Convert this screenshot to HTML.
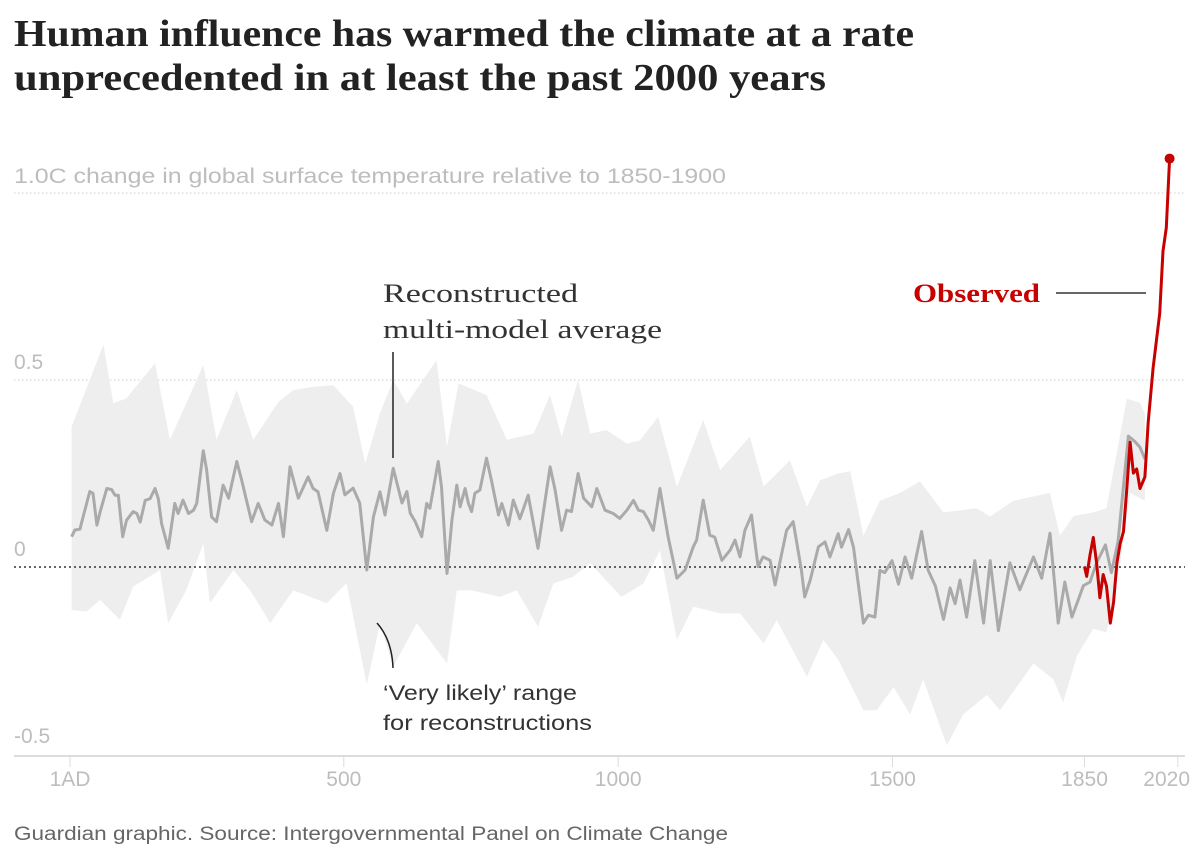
<!DOCTYPE html>
<html><head><meta charset="utf-8"><style>
html,body{margin:0;padding:0;background:#fff;width:1200px;height:859px;overflow:hidden}
svg{display:block}
</style></head><body>
<svg id="chart" width="1200" height="859" xmlns="http://www.w3.org/2000/svg">
<text x="14" y="46" font-family="Liberation Serif, serif" font-weight="bold" font-size="38" fill="#222" textLength="900" lengthAdjust="spacingAndGlyphs">Human influence has warmed the climate at a rate</text>
<text x="14" y="90" font-family="Liberation Serif, serif" font-weight="bold" font-size="38" fill="#222" textLength="812" lengthAdjust="spacingAndGlyphs">unprecedented in at least the past 2000 years</text>
<text x="14" y="183" font-family="Liberation Sans, sans-serif" font-size="21" fill="#bdbdbd" textLength="712" lengthAdjust="spacingAndGlyphs">1.0C change in global surface temperature relative to 1850-1900</text>
<g id="grid"></g>
<g id="marks"></g>
<g id="axis"></g>
<text x="383" y="302" font-family="Liberation Serif, serif" font-size="26" fill="#333" textLength="195" lengthAdjust="spacingAndGlyphs">Reconstructed</text>
<text x="383" y="338" font-family="Liberation Serif, serif" font-size="26" fill="#333" textLength="279" lengthAdjust="spacingAndGlyphs">multi-model average</text>
<line x1="393" y1="352" x2="393" y2="458" stroke="#222" stroke-width="1.5"/>
<text x="913" y="302" font-family="Liberation Serif, serif" font-weight="bold" font-size="26" fill="#c70000" textLength="127" lengthAdjust="spacingAndGlyphs">Observed</text>
<line x1="1056" y1="293" x2="1146" y2="293" stroke="#333" stroke-width="1.5"/>
<path d="M377,623 Q392,640 393,668" fill="none" stroke="#222" stroke-width="1.5"/>
<text x="383" y="700" font-family="Liberation Sans, sans-serif" font-size="21" fill="#333" textLength="194" lengthAdjust="spacingAndGlyphs">‘Very likely’ range</text>
<text x="383" y="730" font-family="Liberation Sans, sans-serif" font-size="21" fill="#333" textLength="209" lengthAdjust="spacingAndGlyphs">for reconstructions</text>
<text x="14" y="840" font-family="Liberation Sans, sans-serif" font-size="19" fill="#666" textLength="714" lengthAdjust="spacingAndGlyphs">Guardian graphic. Source: Intergovernmental Panel on Climate Change</text>
</svg>
<script>
const meanYears=[4,10,19,25,37,43,50,56,68,77,83,89,97,104,116,123,129,138,147,156,162,168,180,192,198,207,217,226,232,244,250,259,268,280,290,305,314,332,344,350,356,369,381,390,402,417,435,444,453,469,481,493,502,517,529,542,554,566,575,590,606,615,621,630,642,651,657,672,678,688,697,706,712,721,727,733,739,748,760,769,782,788,800,809,821,836,854,876,885,897,906,915,927,937,952,961,976,991,1003,1016,1028,1037,1046,1055,1064,1076,1091,1107,1122,1137,1143,1155,1167,1176,1189,1204,1213,1222,1231,1243,1255,1264,1277,1286,1307,1319,1334,1340,1350,1365,1377,1386,1401,1407,1420,1429,1447,1456,1468,1477,1486,1499,1511,1523,1535,1553,1565,1578,1593,1605,1614,1623,1635,1650,1666,1678,1693,1714,1732,1757,1772,1787,1802,1814,1827,1848,1860,1872,1888,1899,1911,1930,1942,1951,1960];
const meanValues=[0.081,0.099,0.101,0.135,0.202,0.197,0.112,0.148,0.210,0.207,0.192,0.192,0.081,0.125,0.148,0.143,0.120,0.178,0.183,0.210,0.183,0.116,0.050,0.170,0.143,0.179,0.143,0.152,0.170,0.311,0.260,0.134,0.121,0.219,0.184,0.282,0.232,0.121,0.170,0.148,0.126,0.112,0.170,0.081,0.268,0.184,0.241,0.210,0.201,0.098,0.197,0.250,0.193,0.211,0.171,-0.008,0.134,0.201,0.139,0.264,0.171,0.202,0.144,0.122,0.081,0.170,0.157,0.282,0.214,-0.017,0.125,0.219,0.161,0.210,0.170,0.148,0.197,0.206,0.291,0.232,0.139,0.170,0.112,0.179,0.129,0.192,0.050,0.268,0.206,0.098,0.152,0.148,0.250,0.184,0.161,0.210,0.152,0.143,0.130,0.152,0.178,0.152,0.148,0.126,0.098,0.210,0.081,-0.030,-0.008,0.054,0.072,0.179,0.085,0.080,0.018,0.045,0.072,0.027,0.098,0.139,0.001,0.027,0.018,-0.048,0.098,0.121,-0.008,-0.080,-0.035,0.054,0.067,0.027,0.089,0.053,0.100,0.053,-0.150,-0.129,-0.134,-0.009,-0.015,0.017,-0.046,0.027,-0.030,0.095,-0.009,-0.050,-0.140,-0.056,-0.098,-0.035,-0.134,0.017,-0.150,0.017,-0.170,0.011,-0.061,0.027,-0.030,0.090,-0.150,-0.040,-0.134,-0.050,-0.040,0.011,0.059,-0.015,0.067,0.350,0.335,0.320,0.289];
const upperYears=[4,31,62,80,104,156,183,244,268,305,335,381,408,444,481,517,539,566,590,615,669,688,709,760,797,846,876,897,927,949,979,1016,1040,1073,1107,1155,1186,1240,1265,1313,1344,1368,1401,1423,1447,1477,1514,1550,1593,1653,1678,1720,1751,1787,1805,1830,1866,1890,1927,1951,1960];
const upperValues=[0.375,0.478,0.594,0.438,0.451,0.545,0.340,0.540,0.340,0.473,0.340,0.442,0.473,0.482,0.486,0.429,0.277,0.411,0.500,0.437,0.553,0.322,0.491,0.460,0.340,0.357,0.460,0.348,0.500,0.357,0.366,0.330,0.339,0.402,0.215,0.393,0.259,0.348,0.215,0.285,0.161,0.232,0.250,0.256,0.084,0.177,0.198,0.229,0.146,0.157,0.135,0.177,0.187,0.198,0.084,0.136,0.146,0.157,0.450,0.439,0.408];
const lowerYears=[4,31,56,92,116,165,180,213,244,256,299,329,366,408,469,505,542,566,590,633,688,706,733,785,815,854,882,918,949,1006,1046,1076,1107,1137,1186,1222,1265,1289,1344,1374,1401,1447,1471,1502,1532,1556,1599,1629,1672,1696,1726,1757,1793,1811,1836,1866,1890,1915,1933,1960];
const lowerValues=[-0.115,-0.119,-0.088,-0.141,-0.053,-0.008,-0.150,-0.062,0.063,-0.097,-0.008,-0.062,-0.150,-0.062,-0.097,-0.043,-0.315,-0.150,-0.267,-0.150,-0.258,-0.062,-0.062,-0.080,-0.062,-0.160,-0.044,-0.026,0.010,-0.080,-0.044,0.045,-0.195,-0.106,-0.124,-0.124,-0.204,-0.142,-0.293,-0.195,-0.248,-0.383,-0.383,-0.321,-0.394,-0.300,-0.477,-0.394,-0.342,-0.383,-0.321,-0.258,-0.300,-0.362,-0.238,-0.165,-0.175,0.011,0.198,0.177];
const obsYears=[1850,1854,1860,1866,1872,1878,1884,1890,1897,1903,1909,1915,1921,1927,1933,1939,1945,1951,1960,1966,1975,1987,1993,1999,2005];
const obsValues=[0.001,-0.025,0.032,0.079,0.011,-0.082,-0.020,-0.051,-0.150,-0.093,0.011,0.063,0.095,0.209,0.334,0.251,0.262,0.210,0.241,0.387,0.532,0.678,0.845,0.907,1.092];
const yTicks=[0.5,0,-0.5];
const yTickLabels=["0.5","0","-0.5"];
const xTicks=[1,500,1000,1500,1850,2020];
const xTickLabels=["1AD","500","1000","1500","1850","2020"];

const NS="http://www.w3.org/2000/svg";
function xs(yr){return 70+(yr-1)*0.5487;}
function ys(v){return 567-v*374;}
function mk(tag,attrs,parent){const e=document.createElementNS(NS,tag);for(const k in attrs)e.setAttribute(k,attrs[k]);parent.appendChild(e);return e;}
const grid=document.getElementById('grid'),marks=document.getElementById('marks'),axis=document.getElementById('axis');

[1.0,0.5].forEach(v=>{
  const l=mk('line',{x1:14,x2:1185,y1:ys(v),y2:ys(v),stroke:'#d8d8d8','stroke-width':1.2,'stroke-dasharray':'1.5,2.5'},grid);
  
  
});
yTicks.forEach((v,i)=>{
  const t=mk('text',{x:14,y:ys(v)-11,'font-family':'Liberation Sans, sans-serif','font-size':21,fill:'#bdbdbd'},grid);
  t.textContent=yTickLabels[i];
  
  
});

let d='M'+upperYears.map((y,i)=>xs(y).toFixed(1)+','+ys(upperValues[i]).toFixed(1)).join('L');
for(let i=lowerYears.length-1;i>=0;i--)d+='L'+xs(lowerYears[i]).toFixed(1)+','+ys(lowerValues[i]).toFixed(1);
d+='Z';
const band=mk('path',{d:d,fill:'#eeeeee'},marks);



const z=mk('line',{x1:14,x2:1185,y1:ys(0),y2:ys(0),stroke:'#333','stroke-width':1.5,'stroke-dasharray':'2,3'},marks);



const mp=mk('path',{d:'M'+meanYears.map((y,i)=>xs(y).toFixed(1)+','+ys(meanValues[i]).toFixed(1)).join('L'),fill:'none',stroke:'#aaaaaa','stroke-width':3,'stroke-linejoin':'round'},marks);



const op=mk('path',{d:'M'+obsYears.map((y,i)=>xs(y).toFixed(1)+','+ys(obsValues[i]).toFixed(1)).join('L'),fill:'none',stroke:'#c70000','stroke-width':3,'stroke-linejoin':'round'},marks);


const n=obsYears.length-1;
const dot=mk('circle',{cx:xs(obsYears[n]),cy:ys(obsValues[n]),r:5,fill:'#c70000'},marks);



const base=mk('line',{x1:14,x2:1185,y1:756,y2:756,stroke:'#dcdcdc','stroke-width':2},axis);


xTicks.forEach((yr,i)=>{
  const tk=mk('line',{x1:xs(yr),x2:xs(yr),y1:756,y2:767,stroke:'#dcdcdc','stroke-width':1},axis);
  
  
  const last=i===xTicks.length-1;
  const t=mk('text',{x:last?1190:xs(yr),y:786,'text-anchor':last?'end':'middle','font-family':'Liberation Sans, sans-serif','font-size':21,fill:'#bdbdbd'},axis);
  t.textContent=xTickLabels[i];
  
  
});
</script>
</body></html>
